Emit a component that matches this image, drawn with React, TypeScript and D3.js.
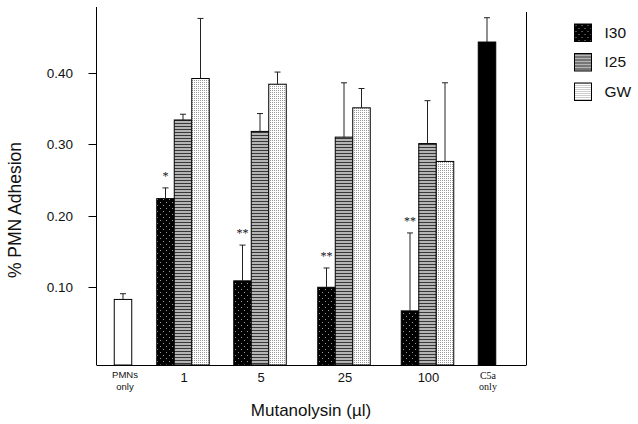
import React from "react";
import * as d3 from "d3";

// ---- data ----
const categories = ["PMNs only", "1", "5", "25", "100", "C5a only"];
const doses = ["1", "5", "25", "100"];
const seriesNames = ["I30", "I25", "GW"];
const i30Values = [0.224, 0.109, 0.1, 0.067];
const i30Errors = [0.015, 0.05, 0.027, 0.109];
const i25Values = [0.334, 0.318, 0.31, 0.301];
const i25Errors = [0.008, 0.025, 0.076, 0.06];
const gwValues = [0.392, 0.384, 0.351, 0.276];
const gwErrors = [0.084, 0.017, 0.027, 0.11];
const pmnsOnlyValue = [0.083];
const pmnsOnlyError = [0.008];
const c5aOnlyValue = [0.443];
const c5aOnlyError = [0.034];
const significance = ["*", "**", "**", "**"];
const yTicks = [0.1, 0.2, 0.3, 0.4];

const W = 638;
const H = 424;
const SANS = "'Liberation Sans', Arial, sans-serif";
const SERIF = "'Liberation Serif', 'Times New Roman', serif";

export default function App() {
  const yAxisX = 96.5;
  const rightX = 526.5;
  const baseY = 365;
  const y = d3.scaleLinear().domain([-0.0087, 0.492]).range([baseY, 7]);
  const x = d3
    .scaleOrdinal<string, number>()
    .domain(categories)
    .range([123, 183, 260, 344, 427.5, 487]);
  const barW = 17.5;
  const inner = d3
    .scaleBand<string>()
    .domain(seriesNames)
    .range([-barW * 1.5, barW * 1.5])
    .padding(0);

  const seriesData = [
    { name: "I30", values: i30Values, errors: i30Errors, fill: "url(#pI30)" },
    { name: "I25", values: i25Values, errors: i25Errors, fill: "url(#pI25)" },
    { name: "GW", values: gwValues, errors: gwErrors, fill: "url(#pGW)" },
  ];

  const errBar = (cx: number, v: number, e: number, key: string) => (
    <g key={key} stroke="#222" strokeWidth={1}>
      <line x1={cx} x2={cx} y1={y(v)} y2={y(v + e)} />
      <line x1={cx - 3} x2={cx + 3} y1={y(v + e)} y2={y(v + e)} />
    </g>
  );

  const bars: React.ReactNode[] = [];
  seriesData.forEach((s) => {
    doses.forEach((d, i) => {
      const left = x(d) + (inner(s.name) as number);
      const cx = left + barW / 2;
      bars.push(
        <rect
          key={`b-${s.name}-${d}`}
          x={left}
          y={y(s.values[i])}
          width={barW}
          height={baseY - y(s.values[i])}
          fill={s.fill}
          stroke="#000"
          strokeWidth={1}
        />
      );
      bars.push(errBar(cx, s.values[i], s.errors[i], `e-${s.name}-${d}`));
    });
  });

  const controls = [
    { cat: "PMNs only", v: pmnsOnlyValue[0], e: pmnsOnlyError[0], fill: "#fff" },
    { cat: "C5a only", v: c5aOnlyValue[0], e: c5aOnlyError[0], fill: "#000" },
  ];

  return (
    <svg
      width={W}
      height={H}
      style={{ position: "absolute", left: 0, top: 0, background: "#fff" }}
    >
      <defs>
        <pattern id="pI30" patternUnits="userSpaceOnUse" width={6} height={6}>
          <rect width={6} height={6} fill="#000" />
          <rect x={1} y={1} width={1} height={1} fill="#9a9a9a" />
          <rect x={4} y={4} width={1} height={1} fill="#9a9a9a" />
        </pattern>
        <pattern id="pI25" patternUnits="userSpaceOnUse" width={4} height={3}>
          <rect width={4} height={3} fill="#b4b4b4" />
          <rect width={4} height={1} fill="#383838" />
        </pattern>
        <pattern id="pGW" patternUnits="userSpaceOnUse" width={2} height={2}>
          <rect width={2} height={2} fill="#fff" />
          <rect width={1} height={1} fill="#9a9a9a" />
        </pattern>
      </defs>

      {/* axes frame */}
      <line x1={yAxisX} x2={yAxisX} y1={7} y2={baseY} stroke="#000" />
      <line x1={rightX} x2={rightX} y1={12} y2={baseY} stroke="#000" />
      <line x1={yAxisX} x2={rightX} y1={baseY + 0.5} y2={baseY + 0.5} stroke="#000" />

      {/* y ticks */}
      {yTicks.map((t) => (
        <g key={`t${t}`}>
          <line
            x1={yAxisX - 8}
            x2={yAxisX}
            y1={Math.round(y(t)) + 0.5}
            y2={Math.round(y(t)) + 0.5}
            stroke="#000"
          />
          <text
            x={73}
            y={y(t) + 5}
            textAnchor="end"
            fontFamily={SANS}
            fontSize={13.5}
            fill="#111"
          >
            {d3.format(".2f")(t)}
          </text>
        </g>
      ))}

      {/* y title */}
      <text
        transform={`translate(21,${210}) rotate(-90)`}
        textAnchor="middle"
        fontFamily={SANS}
        fontSize={17.5}
        fill="#111"
      >
        % PMN Adhesion
      </text>

      {/* bars */}
      {controls.map((c) => (
        <g key={c.cat}>
          <rect
            x={x(c.cat) - barW / 2}
            y={y(c.v)}
            width={barW}
            height={baseY - y(c.v)}
            fill={c.fill}
            stroke="#000"
            strokeWidth={1}
          />
          {errBar(x(c.cat), c.v, c.e, `e-${c.cat}`)}
        </g>
      ))}
      {bars}

      {/* significance marks */}
      {doses.map((d, i) => (
        <text
          key={`s${d}`}
          x={x(d) + (inner("I30") as number) + barW / 2}
          y={y(i30Values[i] + i30Errors[i]) - 8}
          textAnchor="middle"
          fontFamily={SERIF}
          fontSize={12}
          fill="#111"
        >
          {significance[i]}
        </text>
      ))}

      {/* x category labels */}
      {doses.map((d) => (
        <text
          key={`c${d}`}
          x={x(d) + 1}
          y={382}
          textAnchor="middle"
          fontFamily={SANS}
          fontSize={13}
          fill="#111"
        >
          {d}
        </text>
      ))}
      <text x={x("PMNs only") + 2} y={378} textAnchor="middle" fontFamily={SANS} fontSize={9.5} fill="#111">
        PMNs
      </text>
      <text x={x("PMNs only") + 2} y={390} textAnchor="middle" fontFamily={SANS} fontSize={9.5} fill="#111">
        only
      </text>
      <text x={x("C5a only") + 1} y={379} textAnchor="middle" fontFamily={SERIF} fontSize={10} fill="#111">
        C5a
      </text>
      <text x={x("C5a only") + 1} y={390} textAnchor="middle" fontFamily={SERIF} fontSize={10} fill="#111">
        only
      </text>

      {/* x title */}
      <text x={311} y={416} textAnchor="middle" fontFamily={SANS} fontSize={17} fill="#111">
        Mutanolysin (µl)
      </text>

      {/* legend */}
      {seriesData.map((s, i) => (
        <g key={`l${s.name}`} transform={`translate(574.5,${24 + i * 29.5})`}>
          <rect width={17} height={17.5} fill={s.fill} stroke="#000" strokeWidth={1} />
          <text x={30} y={13.5} fontFamily={SANS} fontSize={15.5} fill="#111">
            {s.name}
          </text>
        </g>
      ))}
    </svg>
  );
}
